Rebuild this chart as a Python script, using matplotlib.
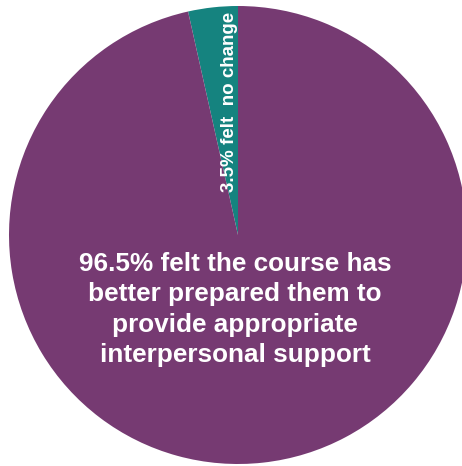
import matplotlib
matplotlib.use("Agg")
import matplotlib.pyplot as plt

labels = ["3.5% felt  no change",
          "96.5% felt the course has\nbetter prepared them to\nprovide appropriate\ninterpersonal support"]
values = [3.5, 96.5]
colors = ["#15837f", "#763a72"]

fig = plt.figure(figsize=(4.62, 4.66), dpi=100)
ax = fig.add_axes([0, 0, 1, 1])
ax.axis("off")

wedges, _ = ax.pie(values, colors=colors, startangle=90, counterclock=True,
                   radius=1.0, center=(0, 0),
                   wedgeprops=dict(linewidth=0))

cx, cy, r = 238, 235, 229
W, H = 462, 466
ax.set_xlim(-cx / r, (W - cx) / r)
ax.set_ylim(-(H - cy) / r, cy / r)

ax.text(-0.037, 0.582, labels[0], rotation=90, ha="center", va="center",
        color="white", fontsize=13.5, fontweight="bold", family="Liberation Sans")
ax.text(-0.013, -0.325, labels[1], ha="center", va="center", color="white",
        fontsize=18.8, fontweight="bold", family="Liberation Sans", linespacing=1.33)

fig.savefig("out.png", dpi=100)
